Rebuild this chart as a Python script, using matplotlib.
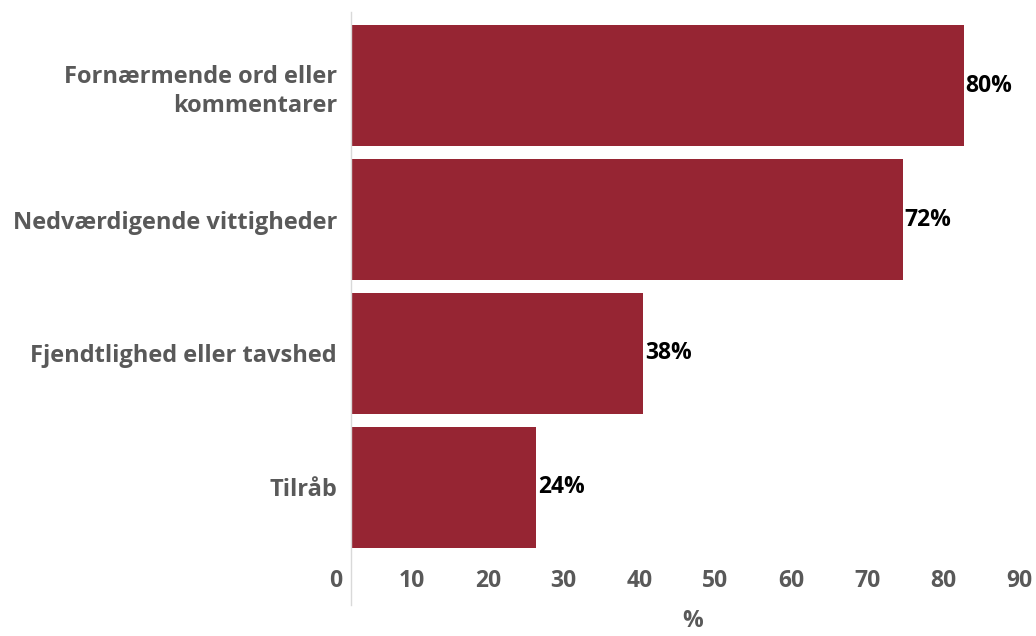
import matplotlib
matplotlib.use("Agg")
import matplotlib.pyplot as plt
import matplotlib.transforms as mtransforms

# categories top to bottom
categories = ["Fornærmende ord eller\nkommentarer",
              "Nedværdigende vittigheder",
              "Fjendtlighed eller tavshed",
              "Tilråb"]
values = [80.8, 72.7, 38.5, 24.4]
value_labels = ["80%", "72%", "38%", "24%"]
xticks = [0, 10, 20, 30, 40, 50, 60, 70, 80, 90]

bar_color = "#962533"
gray = "#595959"

plt.rcParams['font.family'] = ['Open Sans', 'DejaVu Sans']

fig = plt.figure(figsize=(10.36, 6.36), dpi=100)
ax = fig.add_axes([351/1036, 1-561/636, (1034-351)/1036, 549/636])

ypos = list(range(len(categories)))
ax.barh(ypos, values, height=0.9, color=bar_color)
for y, v, lab in zip(ypos, values, value_labels):
    ax.text(v + 0.2, y, lab, va="center", ha="left", fontsize=16.5,
            fontweight="bold", color="black")

ax.set_xlim(0, 90)
ax.set_ylim(3.55, -0.55)
ax.set_yticks(ypos)
ax.set_yticklabels(categories, fontsize=17, fontweight="bold", color=gray,
                   ha="right", linespacing=1.3)
ax.set_xticks(xticks)
ax.set_xticklabels([str(t) for t in xticks], fontsize=16.5, fontweight="bold",
                   color=gray)
ax.tick_params(axis="both", length=0)
ax.tick_params(axis="y", pad=10)
ax.tick_params(axis="x", pad=6)

# tick labels sit a bit left of their ticks in the original
shift = mtransforms.ScaledTranslation(-0.15, 0, fig.dpi_scale_trans)
for lab in ax.get_xticklabels():
    lab.set_transform(lab.get_transform() + shift)

ax.set_xlabel("%", fontsize=16.5, fontweight="bold", color=gray, labelpad=11)

for s in ["top", "right", "bottom", "left"]:
    ax.spines[s].set_visible(False)
ax.axvline(0, ymin=-0.08, ymax=1, color="#d9d9d9", linewidth=1, clip_on=False)

fig.savefig("out.png", dpi=100)
